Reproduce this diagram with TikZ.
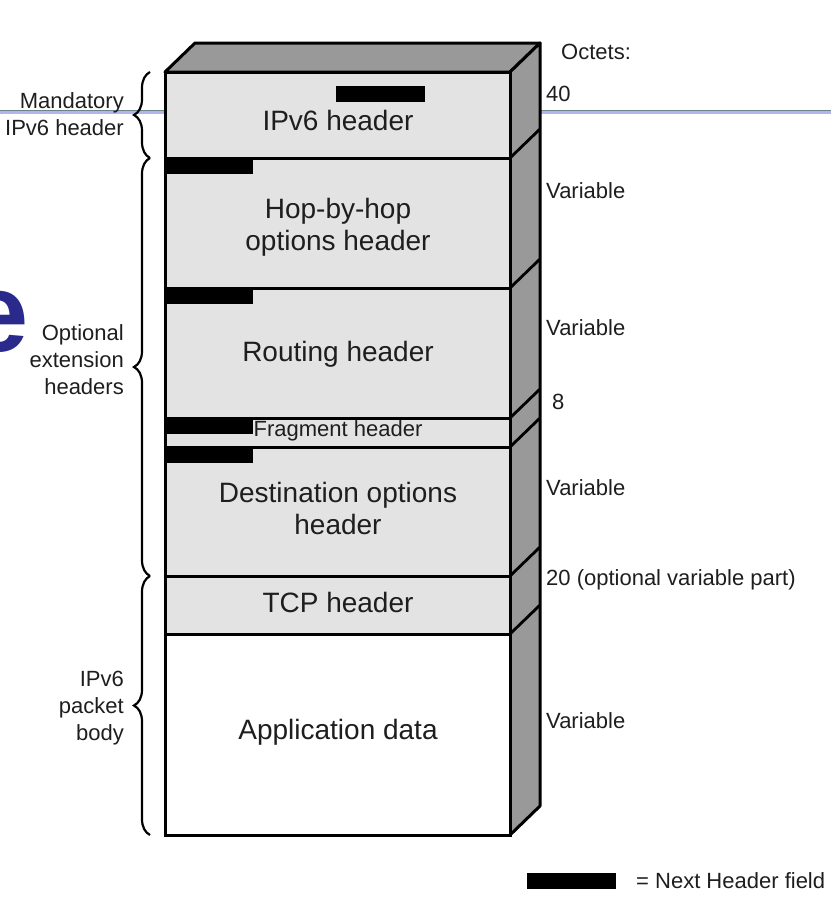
\documentclass[tikz,border=0pt]{standalone}
\usepackage{fontspec}
\setmainfont{Liberation Sans}
\usetikzlibrary{decorations.pathreplacing}
\definecolor{facegray}{RGB}{227,227,227}
\definecolor{sidegray}{RGB}{153,153,153}
\definecolor{txt}{RGB}{30,30,30}
\definecolor{lav}{RGB}{180,180,236}
\definecolor{lavedge}{RGB}{110,130,140}
\definecolor{navy}{RGB}{42,42,140}
\begin{document}
\begin{tikzpicture}[x=1pt,y=-1pt,
  face/.style={draw=black,line width=3pt,fill=facegray},
  side/.style={draw=black,line width=3pt,fill=sidegray,line join=round},
  edge/.style={draw=black,line width=2.8pt},
  nhbar/.style={fill=black},
  bigtxt/.style={text=txt,font=\fontsize{28}{32}\selectfont,align=center,inner sep=0pt},
  smalltxt/.style={text=txt,font=\fontsize{22}{27}\selectfont,inner sep=0pt},
  lefttxt/.style={text=txt,font=\fontsize{22}{27}\selectfont,align=right,anchor=east,inner sep=0pt},
  bracestyle/.style={draw=black,line width=2.2pt,decorate,decoration={brace,amplitude=16pt,aspect=0.5}}]
\useasboundingbox (0,0) rectangle (831,905);
\begin{scope}
\clip (0,0) rectangle (831,905);
\node[anchor=base east,inner sep=0pt,text=navy,font=\fontsize{112}{112}\selectfont\bfseries] (etitle) at (29,351) {e};
\end{scope}
% slide rule line
\draw[line width=3.2pt,lav] (0,112) -- (831,112);
\draw[line width=0.7pt,lavedge] (0,110.3) -- (831,110.3);
% top and right faces
\path[side] (165,72) -- (195,43) -- (540,43) -- (510,72) -- cycle;
\path[side] (510,72) -- (540,43) -- (540,806) -- (510,835) -- cycle;
% front sections
\path[face] (165,72) rectangle (510,158);
\path[face] (165,158) rectangle (510,288);
\path[face] (165,288) rectangle (510,418);
\path[face] (165,418) rectangle (510,447);
\path[face] (165,447) rectangle (510,576);
\path[face] (165,576) rectangle (510,634);
\path[face,fill=white] (165,634) rectangle (510,835);
% diagonal edges on right face
\foreach \yy in {158,288,418,447,576,634}{
  \draw[edge] (510,\yy) -- (540,\yy-29);
}
% next header bars
\fill[nhbar] (336,86) rectangle (425,102);
\fill[nhbar] (166.3,159.3) rectangle (253,174);
\fill[nhbar] (166.3,289.3) rectangle (253,304);
\fill[nhbar] (166.3,419.3) rectangle (253,434);
\fill[nhbar] (166.3,448.3) rectangle (253,463);
% section labels
\node[bigtxt] (ipv6) at (338,120) {IPv6 header};
\node[bigtxt] (hop) at (338,227) {Hop-by-hop\\options header};
\node[bigtxt] (routing) at (338,354) {Routing header};
\node[text=txt,font=\fontsize{22}{26}\selectfont,inner sep=0pt] (frag) at (338,431) {Fragment header};
\node[bigtxt] (dest) at (338,508) {Destination options\\header};
\node[bigtxt] (tcp) at (338,602) {TCP header};
\node[bigtxt] (app) at (338,732) {Application data};
% right labels
\node[smalltxt,anchor=west] (octets) at (561,52) {Octets:};
\node[smalltxt,anchor=west] (o40) at (546,94) {40};
\node[smalltxt,anchor=west] (v1) at (546,191) {Variable};
\node[smalltxt,anchor=west] (v2) at (546,328) {Variable};
\node[smalltxt,anchor=west] (o8) at (552,402) {8};
\node[smalltxt,anchor=west] (v3) at (546,488) {Variable};
\node[smalltxt,anchor=west] (o20) at (546,580) {20 (optional variable part)};
\node[smalltxt,anchor=west] (v4) at (546,721) {Variable};
% braces
\draw[bracestyle] (150,158) -- (150,72);
\draw[bracestyle] (150,576) -- (150,158);
\draw[bracestyle] (150,835) -- (150,576);
% left labels
\node[lefttxt] (mand) at (124,114) {Mandatory\\IPv6 header};
\node[lefttxt] (opt) at (124,360) {Optional\\extension\\headers};
\node[lefttxt] (body) at (124,708) {IPv6\\packet\\body};
% legend
\fill[nhbar] (527,873) rectangle (616,889);
\node[smalltxt,anchor=west] (legend) at (636,881) {= Next Header field};
\end{tikzpicture}
\end{document}
